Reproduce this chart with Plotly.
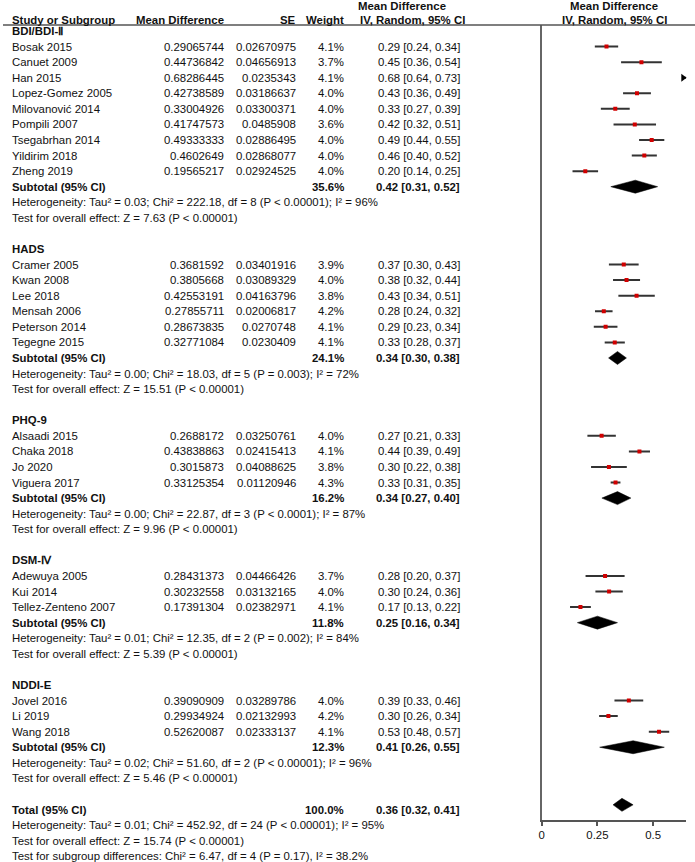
import plotly.graph_objects as go

# ---------------- data ----------------
group_names = ["BDI/BDI-Ⅱ", "HADS", "PHQ-9", "DSM-Ⅳ", "NDDI-E"]

bdi_studies = ["Bosak 2015", "Canuet 2009", "Han 2015", "Lopez-Gomez 2005", "Milovanović 2014",
               "Pompili 2007", "Tsegabrhan 2014", "Yildirim 2018", "Zheng 2019"]
bdi_md = [0.29065744, 0.44736842, 0.68286445, 0.42738589, 0.33004926, 0.41747573, 0.49333333, 0.4602649, 0.19565217]
bdi_se = [0.02670975, 0.04656913, 0.0235343, 0.03186637, 0.03300371, 0.0485908, 0.02886495, 0.02868077, 0.02924525]
bdi_weight = [4.1, 3.7, 4.1, 4.0, 4.0, 3.6, 4.0, 4.0, 4.0]

hads_studies = ["Cramer 2005", "Kwan 2008", "Lee 2018", "Mensah 2006", "Peterson 2014", "Tegegne 2015"]
hads_md = [0.3681592, 0.3805668, 0.42553191, 0.27855711, 0.28673835, 0.32771084]
hads_se = [0.03401916, 0.03089329, 0.04163796, 0.02006817, 0.0270748, 0.0230409]
hads_weight = [3.9, 4.0, 3.8, 4.2, 4.1, 4.1]

phq_studies = ["Alsaadi 2015", "Chaka 2018", "Jo 2020", "Viguera 2017"]
phq_md = [0.2688172, 0.43838863, 0.3015873, 0.33125354]
phq_se = [0.03250761, 0.02415413, 0.04088625, 0.01120946]
phq_weight = [4.0, 4.1, 3.8, 4.3]

dsm_studies = ["Adewuya 2005", "Kui 2014", "Tellez-Zenteno 2007"]
dsm_md = [0.28431373, 0.30232558, 0.17391304]
dsm_se = [0.04466426, 0.03132165, 0.02382971]
dsm_weight = [3.7, 4.0, 4.1]

nddi_studies = ["Jovel 2016", "Li 2019", "Wang 2018"]
nddi_md = [0.39090909, 0.29934924, 0.52620087]
nddi_se = [0.03289786, 0.02132993, 0.02333137]
nddi_weight = [4.0, 4.2, 4.1]

subtotal_est = [0.42, 0.34, 0.34, 0.25, 0.41]
subtotal_lo = [0.31, 0.30, 0.27, 0.16, 0.26]
subtotal_hi = [0.52, 0.38, 0.40, 0.34, 0.55]
subtotal_weight = [35.6, 24.1, 16.2, 11.8, 12.3]
subtotal_het = [
    "Heterogeneity: Tau² = 0.03; Chi² = 222.18, df = 8 (P < 0.00001); I² = 96%",
    "Heterogeneity: Tau² = 0.00; Chi² = 18.03, df = 5 (P = 0.003); I² = 72%",
    "Heterogeneity: Tau² = 0.00; Chi² = 22.87, df = 3 (P < 0.0001); I² = 87%",
    "Heterogeneity: Tau² = 0.01; Chi² = 12.35, df = 2 (P = 0.002); I² = 84%",
    "Heterogeneity: Tau² = 0.02; Chi² = 51.60, df = 2 (P < 0.00001); I² = 96%",
]
subtotal_test = [
    "Test for overall effect: Z = 7.63 (P < 0.00001)",
    "Test for overall effect: Z = 15.51 (P < 0.00001)",
    "Test for overall effect: Z = 9.96 (P < 0.00001)",
    "Test for overall effect: Z = 5.39 (P < 0.00001)",
    "Test for overall effect: Z = 5.46 (P < 0.00001)",
]

total_est, total_lo, total_hi, total_weight = 0.36, 0.32, 0.41, 100.0
total_lines = [
    "Heterogeneity: Tau² = 0.01; Chi² = 452.92, df = 24 (P < 0.00001); I² = 95%",
    "Test for overall effect: Z = 15.74 (P < 0.00001)",
    "Test for subgroup differences: Chi² = 6.47, df = 4 (P = 0.17), I² = 38.2%",
]

x_tickvals = [0, 0.25, 0.5]
x_ticktext = ["0", "0.25", "0.5"]

# ---------------- layout constants ----------------
W, H = 695, 862
ROW0_PX, PITCH = 31.0, 15.57
AX_TOP_PX, AX_BOT_PX = 25, 820
X0_PX, XEND_PX, PX_PER_UNIT = 541, 686, 224.0
XMAX = (XEND_PX - X0_PX) / PX_PER_UNIT
FONT = "Liberation Sans, Arial, sans-serif"
FS = 11.4
Z = 1.96

COL_NAME = 8
COL_MD = 223
COL_SE = 295
COL_W = 343
COL_CI = 460
COL_HDR_R = 614

groups = [
    (bdi_studies, bdi_md, bdi_se, bdi_weight),
    (hads_studies, hads_md, hads_se, hads_weight),
    (phq_studies, phq_md, phq_se, phq_weight),
    (dsm_studies, dsm_md, dsm_se, dsm_weight),
    (nddi_studies, nddi_md, nddi_se, nddi_weight),
]

annotations = []


def row_px(row):
    return ROW0_PX + PITCH * row


def row_of_px(px):
    return (px - ROW0_PX) / PITCH


def ann(xpx, row, text, anchor="left", bold=False):
    if bold:
        text = "<b>" + text + "</b>"
    annotations.append(dict(
        x=xpx / W, xref="paper", y=1 - row_px(row) / H, yref="paper", text=text,
        showarrow=False, xanchor=anchor, yanchor="middle",
        font=dict(family=FONT, size=FS, color="#111"), borderpad=0,
    ))


# headers
ann(401, row_of_px(6), "Mean Difference", "center", True)
ann(COL_HDR_R, row_of_px(6), "Mean Difference", "center", True)
ann(COL_NAME, row_of_px(20), "Study or Subgroup", "left", True)
ann(COL_MD, row_of_px(20), "Mean Difference", "right", True)
ann(COL_SE, row_of_px(20), "SE", "right", True)
ann(COL_W, row_of_px(20), "Weight", "right", True)
ann(411, row_of_px(20), "IV, Random, 95% CI", "center", True)
ann(COL_HDR_R, row_of_px(20), "IV, Random, 95% CI", "center", True)

line_x, line_y = [], []
pt_x, pt_y = [], []
arr_x, arr_y = [], []
diamonds = []

row = 0
for gi, (names, mds, ses, wts) in enumerate(groups):
    ann(COL_NAME, row, group_names[gi], "left", True)
    row += 1
    for n, m, s, w in zip(names, mds, ses, wts):
        lo, hi = m - Z * s, m + Z * s
        ann(COL_NAME, row, n)
        ann(COL_MD, row, str(m), "right")
        ann(COL_SE, row, str(s), "right")
        ann(COL_W, row, f"{w:.1f}%", "right")
        ann(COL_CI, row, f"{m:.2f} [{lo:.2f}, {hi:.2f}]", "right")
        line_x += [lo, hi, None]
        line_y += [row, row, None]
        pt_x.append(m)
        pt_y.append(row)
        if hi > XMAX:
            arr_x.append(XMAX - 3 / PX_PER_UNIT)
            arr_y.append(row)
        row += 1
    ann(COL_NAME, row, "Subtotal (95% CI)", "left", True)
    ann(COL_W, row, f"{subtotal_weight[gi]:.1f}%", "right", True)
    ann(COL_CI, row, f"{subtotal_est[gi]:.2f} [{subtotal_lo[gi]:.2f}, {subtotal_hi[gi]:.2f}]", "right", True)
    diamonds.append((subtotal_lo[gi], subtotal_est[gi], subtotal_hi[gi], row))
    row += 1
    ann(COL_NAME, row, subtotal_het[gi])
    row += 1
    ann(COL_NAME, row, subtotal_test[gi])
    row += 2

ann(COL_NAME, row, "Total (95% CI)", "left", True)
ann(COL_W, row, f"{total_weight:.1f}%", "right", True)
ann(COL_CI, row, f"{total_est:.2f} [{total_lo:.2f}, {total_hi:.2f}]", "right", True)
diamonds.append((total_lo, total_est, total_hi, row - 0.3))
for t in total_lines:
    row += 1
    ann(COL_NAME, row, t)

fig = go.Figure()
fig.add_trace(go.Scatter(x=line_x, y=line_y, mode="lines",
                         line=dict(color="#333333", width=2), hoverinfo="skip"))
fig.add_trace(go.Scatter(x=pt_x, y=pt_y, mode="markers",
                         marker=dict(symbol="square", size=4, color="#d10000", line=dict(width=0))))
if arr_x:
    fig.add_trace(go.Scatter(x=arr_x, y=arr_y, mode="markers",
                             marker=dict(symbol="triangle-right", size=7, color="black"),
                             cliponaxis=False))
HALF = 6.5 / PITCH
for lo, est, hi, r in diamonds:
    fig.add_trace(go.Scatter(x=[lo, est, hi, est, lo], y=[r, r - HALF, r, r + HALF, r],
                             mode="lines", fill="toself", fillcolor="black",
                             line=dict(color="black", width=0.5), hoverinfo="skip"))

fig.update_layout(
    width=W, height=H, margin=dict(l=0, r=0, t=0, b=0),
    paper_bgcolor="white", plot_bgcolor="white", showlegend=False,
    annotations=annotations,
    xaxis=dict(domain=[X0_PX / W, XEND_PX / W], range=[0, XMAX],
               tickvals=x_tickvals, ticktext=x_ticktext, ticks="outside", ticklen=4,
               tickwidth=1.5, tickcolor="#555", showline=True, linecolor="#555", linewidth=1.5,
               showgrid=False, zeroline=False,
               tickfont=dict(family=FONT, size=FS, color="#111")),
    yaxis=dict(domain=[1 - AX_BOT_PX / H, 1 - AX_TOP_PX / H],
               range=[row_of_px(AX_BOT_PX), row_of_px(AX_TOP_PX)],
               showticklabels=False, ticks="", showgrid=False, zeroline=False,
               showline=True, linecolor="#666", linewidth=2),
    shapes=[dict(type="line", xref="paper", yref="paper", x0=0, x1=1,
                 y0=1 - AX_TOP_PX / H, y1=1 - AX_TOP_PX / H,
                 line=dict(color="#555", width=1.5))],
)

fig.write_html("out.html", config={"displayModeBar": False},
               post_script="document.body.style.margin='0px';")
